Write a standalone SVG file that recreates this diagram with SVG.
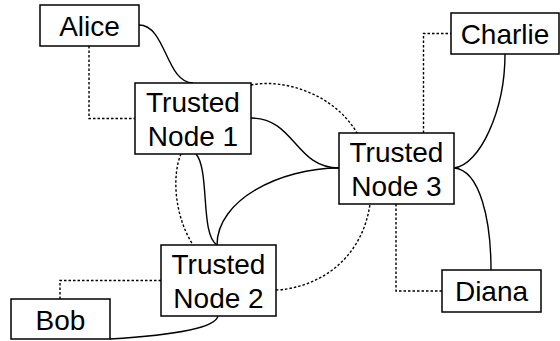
<svg xmlns="http://www.w3.org/2000/svg" width="560" height="341" viewBox="0 0 560 341">
<style>
.box{fill:#fff;stroke:#000;stroke-width:1.5}
.lbl{font-family:"Liberation Sans",Arial,sans-serif;font-size:28px;fill:#000;text-anchor:middle}
.solid{fill:none;stroke:#000;stroke-width:1.4}
.dot{fill:none;stroke:#000;stroke-width:1.4;stroke-dasharray:2.5 2}
</style>
<rect width="560" height="341" fill="#fff"/>
<g id="connectors">
<path class="solid" d="M139,25 C166,25 166,83 193,83"/>
<path class="dot" d="M89,46 V118.5 H135"/>
<path class="solid" d="M251,118 C295,118 295,168 339,168"/>
<path class="dot" d="M251,85 C285,78 335,95 357,133"/>
<path class="dot" d="M181,154 C172,175 174,215 193,245"/>
<path class="dot" d="M276,290 C318,288 362,260 370,204"/>
<path class="solid" d="M196,154 C210,170 200,235 217,245"/>
<path class="solid" d="M217,245 C217,200 280,168 339,168"/>
<path class="solid" d="M454,168 C480,165 505,110 505,54"/>
<path class="dot" d="M423.5,133 V33.5 H451"/>
<path class="solid" d="M454,168 C480,170 491,220 491,270"/>
<path class="dot" d="M396,204 V291 H442"/>
<path class="dot" d="M161,280.5 H60 V299"/>
<path class="solid" d="M218,316 C215,330 160,336 110,339"/>
</g>
<g id="alice"><rect class="box" x="40" y="5" width="99" height="41"/><text class="lbl" x="89.5" y="36">Alice</text></g>
<g id="charlie"><rect class="box" x="451" y="13" width="108" height="41"/><text class="lbl" x="505" y="44">Charlie</text></g>
<g id="tn1"><rect class="box" x="135" y="83" width="116" height="71"/><text class="lbl" x="193" y="111.7">Trusted</text><text class="lbl" x="193" y="145.7">Node 1</text></g>
<g id="tn3"><rect class="box" x="339" y="133" width="115" height="71"/><text class="lbl" x="396.5" y="161.7">Trusted</text><text class="lbl" x="396.5" y="195.7">Node 3</text></g>
<g id="tn2"><rect class="box" x="161" y="245" width="115" height="71"/><text class="lbl" x="218.5" y="273.7">Trusted</text><text class="lbl" x="218.5" y="307.7">Node 2</text></g>
<g id="diana"><rect class="box" x="442" y="270" width="99" height="42"/><text class="lbl" x="491.5" y="301">Diana</text></g>
<g id="bob"><rect class="box" x="11" y="299" width="99" height="40"/><text class="lbl" x="60.5" y="330">Bob</text></g>
</svg>
